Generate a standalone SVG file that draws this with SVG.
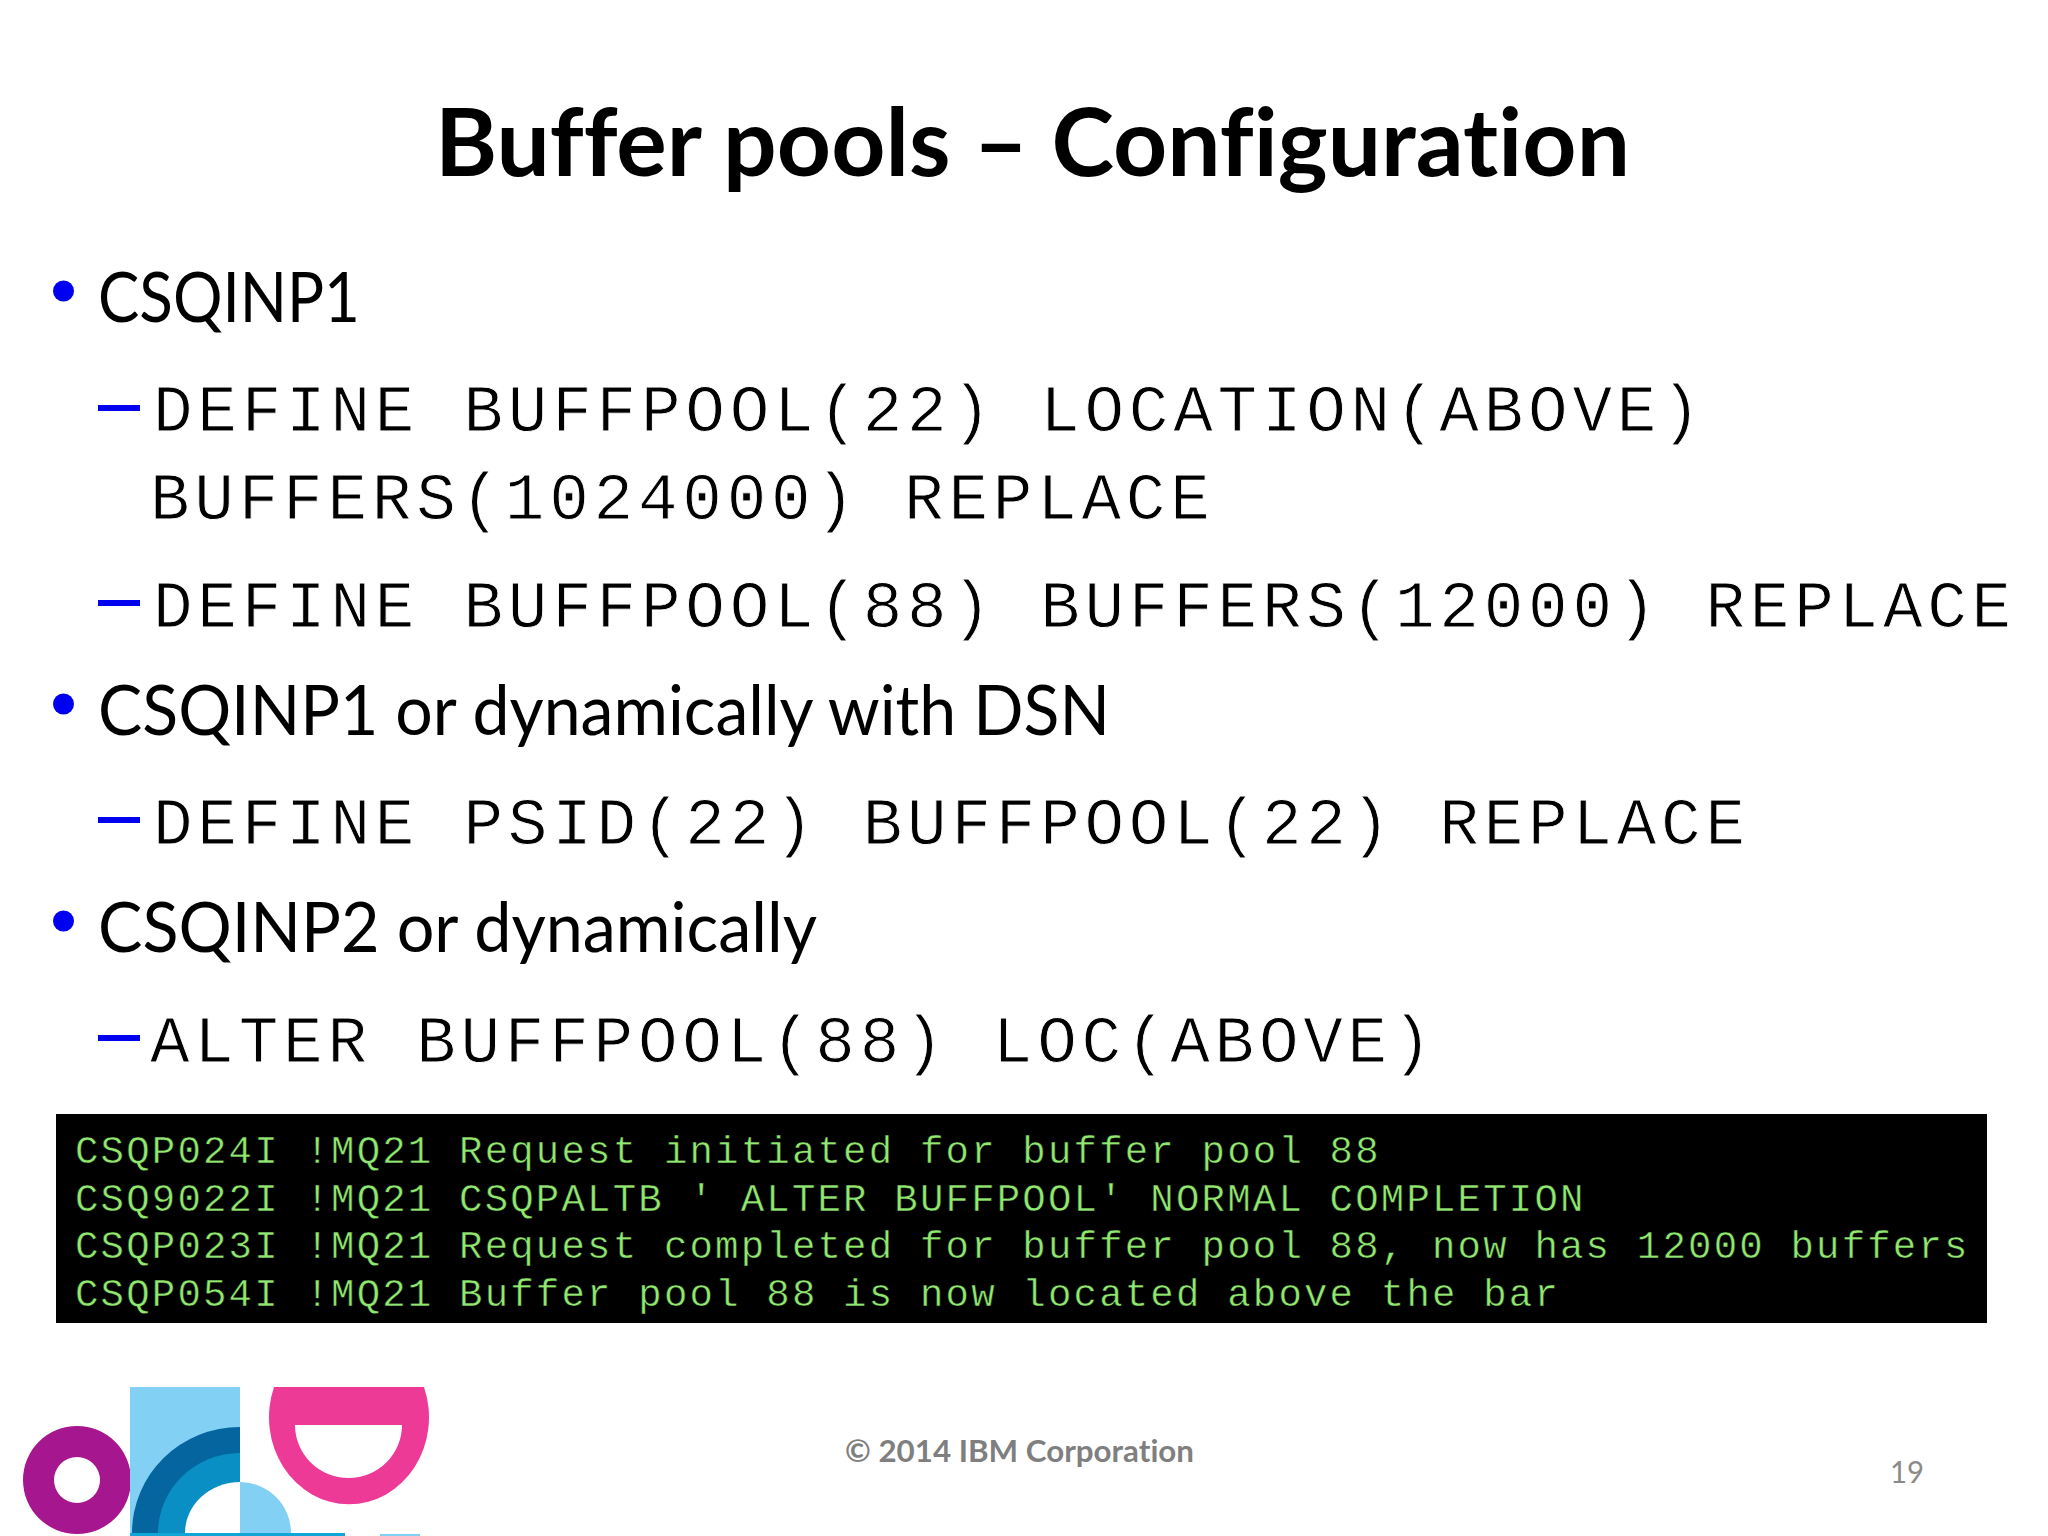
<svg xmlns="http://www.w3.org/2000/svg" width="2048" height="1536" viewBox="0 0 2048 1536">
<style>
text{font-variant-ligatures:none}
.s{font-family:"Lato","Open Sans",sans-serif;font-size:70px;fill:#000}
.m{font-family:"Liberation Mono",monospace;font-size:66px;letter-spacing:4.75px;fill:#000;stroke:#fff;stroke-width:.9px}
.g{font-family:"Liberation Mono",monospace;font-size:39px;letter-spacing:2.2px;fill:#90e870;stroke:#000;stroke-width:.5px}
.b{fill:#0000f0}
</style>
<rect width="2048" height="1536" fill="#fff"/>
<g id="title"><text x="435" y="176" textLength="1195" lengthAdjust="spacingAndGlyphs" style="font-family:Lato,sans-serif;font-size:93px;font-weight:700;fill:#000">Buffer pools – Configuration</text></g>
<g id="body">
<circle class="b" cx="63.5" cy="291" r="10.5"/>
<text class="s" x="98" y="322" textLength="262" lengthAdjust="spacingAndGlyphs">CSQINP1</text>
<rect class="b" x="98" y="405" width="42" height="6"/>
<text class="m" x="153" y="431">DEFINE BUFFPOOL(22) LOCATION(ABOVE)</text>
<text class="m" x="150" y="519">BUFFERS(1024000) REPLACE</text>
<rect class="b" x="98" y="600" width="42" height="6"/>
<text class="m" x="153" y="627">DEFINE BUFFPOOL(88) BUFFERS(12000) REPLACE</text>
<circle class="b" cx="63.5" cy="704" r="10.5"/>
<text class="s" x="98" y="735" textLength="1012" lengthAdjust="spacingAndGlyphs">CSQINP1 or dynamically with DSN</text>
<rect class="b" x="98" y="817" width="42" height="6"/>
<text class="m" x="153" y="844">DEFINE PSID(22) BUFFPOOL(22) REPLACE</text>
<circle class="b" cx="63.5" cy="921" r="10.5"/>
<text class="s" x="98" y="952" textLength="719" lengthAdjust="spacingAndGlyphs">CSQINP2 or dynamically</text>
<rect class="b" x="98" y="1035" width="42" height="6"/>
<text class="m" x="150" y="1062">ALTER BUFFPOOL(88) LOC(ABOVE)</text>
</g>
<g id="console">
<rect x="56" y="1114" width="1931" height="209" fill="#000"/>
<text class="g" x="75" y="1163">CSQP024I !MQ21 Request initiated for buffer pool 88</text>
<text class="g" x="75" y="1211">CSQ9022I !MQ21 CSQPALTB ' ALTER BUFFPOOL' NORMAL COMPLETION</text>
<text class="g" x="75" y="1258">CSQP023I !MQ21 Request completed for buffer pool 88, now has 12000 buffers</text>
<text class="g" x="75" y="1306">CSQP054I !MQ21 Buffer pool 88 is now located above the bar</text>
</g>
<g id="logo">
<path fill="#a6168f" fill-rule="evenodd" d="M23 1480a54 54 0 1 0 108 0a54 54 0 1 0 -108 0zM54 1480a23 23 0 1 0 46 0a23 23 0 1 0 -46 0z"/>
<rect x="130" y="1387" width="110" height="146" fill="#82d0f4"/>
<path fill="#04659f" d="M240 1427a108 106 0 0 0 -108 106h108z"/>
<path fill="#0a8fc4" d="M240 1453a82 80 0 0 0 -82 80h82z"/>
<path fill="#fff" d="M240 1482a55 51 0 0 0 -55 51h55z"/>
<path fill="#82d0f4" d="M240 1482a51 51 0 0 1 51 51h-51z"/>
<path fill="#ee3a97" d="M274 1387A80 87 0 1 0 424 1387z"/>
<path fill="#fff" d="M295 1425h107a53.500 53 0 0 1 -107 0z"/>
<rect x="130" y="1533" width="215" height="3" fill="#12a5d8"/>
<rect x="380" y="1534" width="40" height="2" fill="#82d0f4"/>
</g>
<g id="footer">
<text x="845" y="1462" textLength="349" lengthAdjust="spacingAndGlyphs" style="font-family:Lato,sans-serif;font-size:31px;font-weight:700;fill:#7f7f7f">© 2014 IBM Corporation</text>
<text x="1890" y="1483" textLength="34" lengthAdjust="spacingAndGlyphs" style="font-family:Lato,sans-serif;font-size:31px;fill:#8a8a8a">19</text>
</g>
</svg>
